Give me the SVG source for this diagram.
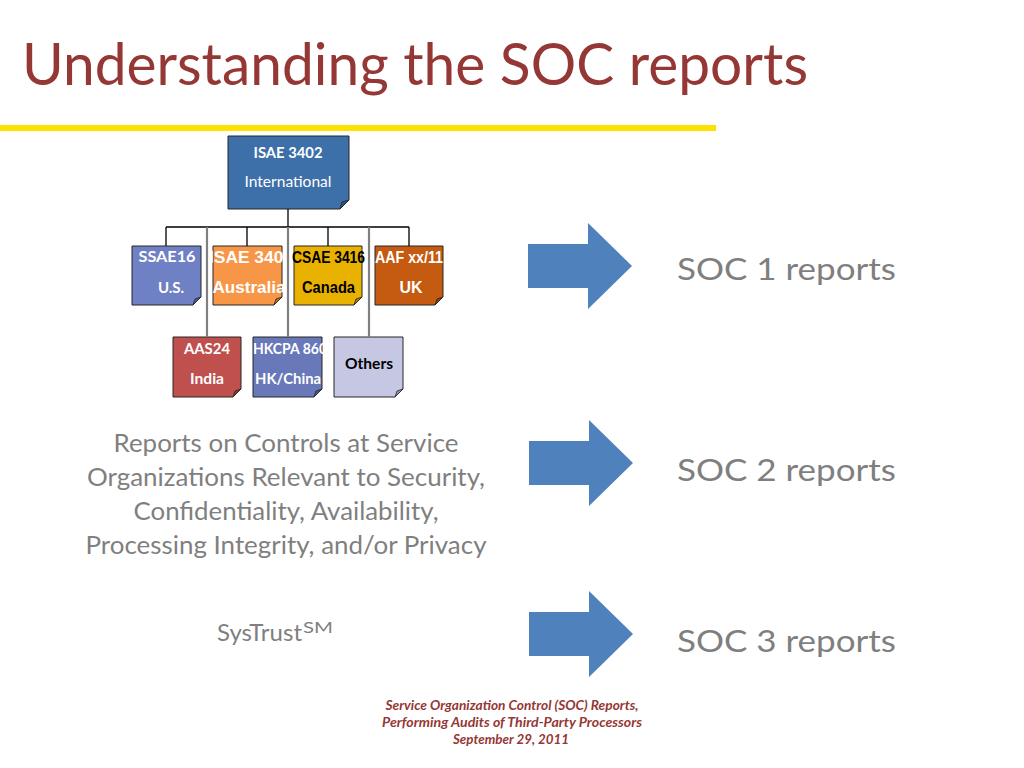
<svg xmlns="http://www.w3.org/2000/svg" width="1024" height="768" viewBox="0 0 1024 768">
<defs>
<style>
.box{stroke:#262626;stroke-width:1}
.fold{stroke:#262626;stroke-width:0.8}
.conn{stroke:#000;stroke-width:1.3;fill:none}
.gconn{stroke:#808080;stroke-width:2.2;fill:none}
.cal{font-family:Lato,"Open Sans","Liberation Sans",sans-serif}
.bw{font-family:Lato,"Open Sans","Liberation Sans",sans-serif;font-weight:bold;font-size:15px;fill:#fff;text-anchor:middle}
.ar{font-family:"Liberation Sans",Arial,sans-serif;font-weight:bold;font-size:16px;text-anchor:middle}
.gray{fill:#7F7F7F}
.foot{font-family:Lato,"Open Sans","Liberation Sans",sans-serif;font-weight:bold;font-style:italic;font-size:13px;fill:#953735;text-anchor:middle}
</style>
<polygon id="arrow" points="-104,-22 -44,-22 -44,-43 0,0 -44,43 -44,22 -104,22" fill="#4F81BD"/>
</defs>
<rect width="1024" height="768" fill="#fff"/>

<text class="cal" x="22" y="85" font-size="59" fill="#953735" textLength="786" lengthAdjust="spacingAndGlyphs">Understanding the SOC reports</text>
<rect x="0" y="125" width="716" height="6" fill="#FFE000"/>

<g id="node-isae3402">
<path class="box" fill="#3D6FA9" d="M228,136 H349 V200 L340,209 H228 Z"/>
<path class="fold" fill="#2D5384" d="M349,200 L340,209 L342,202 Z"/>
<text class="bw" x="288" y="158" font-size="14" textLength="69" lengthAdjust="spacingAndGlyphs">ISAE 3402</text>
<text class="cal" x="288" y="187" font-size="15" fill="#fff" text-anchor="middle" textLength="87" lengthAdjust="spacingAndGlyphs">International</text>
</g>

<g id="node-ssae16">
<path class="box" fill="#7080C4" d="M132,246 H201 V297 L193,305 H132 Z"/>
<path class="fold" fill="#4F5C96" d="M201,297 L193,305 L195,299 Z"/>
<text class="bw" x="167" y="262" textLength="57" lengthAdjust="spacingAndGlyphs">SSAE16</text>
<text class="bw" x="171" y="293">U.S.</text>
</g>

<g id="node-isae3402-au">
<path class="box" fill="#F79646" d="M213,246 H282 V297 L274,305 H213 Z"/>
<path class="fold" fill="#B86C2E" d="M282,297 L274,305 L276,299 Z"/>
<text class="ar" x="251" y="263" fill="#fff" textLength="84" lengthAdjust="spacingAndGlyphs">ISAE 3402</text>
<text class="ar" x="249" y="293" fill="#fff" textLength="73" lengthAdjust="spacingAndGlyphs">Australia</text>
</g>

<g id="node-csae3416">
<path class="box" fill="#E9B100" d="M294,246 H362 V297 L354,305 H294 Z"/>
<path class="fold" fill="#A87F00" d="M362,297 L354,305 L356,299 Z"/>
<text class="ar" x="328.5" y="263" fill="#000" textLength="73" lengthAdjust="spacingAndGlyphs">CSAE 3416</text>
<text class="ar" x="328.5" y="293" fill="#000" textLength="53" lengthAdjust="spacingAndGlyphs">Canada</text>
</g>

<g id="node-aaf">
<path class="box" fill="#C55A11" d="M375,246 H443 V297 L435,305 H375 Z"/>
<path class="fold" fill="#8C3F0B" d="M443,297 L435,305 L437,299 Z"/>
<text class="ar" x="409" y="263" fill="#fff" font-size="15" textLength="68" lengthAdjust="spacingAndGlyphs">AAF xx/11</text>
<text class="ar" x="411" y="293" fill="#fff">UK</text>
</g>

<g id="node-aas24">
<path class="box" fill="#C0504D" d="M173,337 H241 V389 L233,397 H173 Z"/>
<path class="fold" fill="#8A3836" d="M241,389 L233,397 L235,391 Z"/>
<text class="bw" x="207" y="354" textLength="46" lengthAdjust="spacingAndGlyphs">AAS24</text>
<text class="bw" x="207" y="384" textLength="34" lengthAdjust="spacingAndGlyphs">India</text>
</g>

<g id="node-hkcpa">
<path class="box" fill="#6878B8" d="M253,337 H322 V389 L314,397 H253 Z"/>
<path class="fold" fill="#4A5685" d="M322,389 L314,397 L316,391 Z"/>
<text class="bw" x="290" y="354" textLength="74" lengthAdjust="spacingAndGlyphs">HKCPA 860</text>
<text class="bw" x="288" y="384" textLength="66" lengthAdjust="spacingAndGlyphs">HK/China</text>
</g>

<g id="node-others">
<path class="box" fill="#C6C8E3" d="M334,337 H403 V389 L395,397 H334 Z"/>
<path class="fold" fill="#9496B0" d="M403,389 L395,397 L397,391 Z"/>
<text class="bw" x="369" y="369" style="fill:#000" textLength="48" lengthAdjust="spacingAndGlyphs">Others</text>
</g>

<g id="connectors">
<path class="conn" d="M288,209 V227 M166,227 H409 M166,227 V246 M247,227 V246 M328,227 V246 M409,227 V246"/>
<path class="gconn" d="M207,227 V337 M288,227 V337 M369,227 V337"/>
</g>

<g id="arrows">
<use href="#arrow" x="632" y="266"/>
<use href="#arrow" x="633" y="463"/>
<use href="#arrow" x="633" y="634"/>
</g>

<g id="soc-labels" class="cal gray" font-size="30">
<text x="677" y="280" textLength="219" lengthAdjust="spacingAndGlyphs">SOC 1 reports</text>
<text x="677" y="481" textLength="219" lengthAdjust="spacingAndGlyphs">SOC 2 reports</text>
<text x="677" y="652" textLength="219" lengthAdjust="spacingAndGlyphs">SOC 3 reports</text>
</g>

<g id="soc2-desc" class="cal gray" font-size="25" text-anchor="middle">
<text x="286" y="452" textLength="345" lengthAdjust="spacingAndGlyphs">Reports on Controls at Service</text>
<text x="286" y="486" textLength="398" lengthAdjust="spacingAndGlyphs">Organizations Relevant to Security,</text>
<text x="286" y="520" textLength="305" lengthAdjust="spacingAndGlyphs">Confidentiality, Availability,</text>
<text x="286" y="554" textLength="401" lengthAdjust="spacingAndGlyphs">Processing Integrity, and/or Privacy</text>
</g>

<g id="systrust" class="cal gray">
<text x="217" y="641" font-size="23" textLength="85" lengthAdjust="spacingAndGlyphs">SysTrust</text>
<text x="303" y="633" font-size="15" textLength="30" lengthAdjust="spacingAndGlyphs">SM</text>
</g>

<g id="footer">
<text class="foot" x="512" y="710" textLength="253" lengthAdjust="spacingAndGlyphs">Service Organization Control (SOC) Reports,</text>
<text class="foot" x="512" y="727" textLength="260" lengthAdjust="spacingAndGlyphs">Performing Audits of Third-Party Processors</text>
<text class="foot" x="511" y="744" textLength="116" lengthAdjust="spacingAndGlyphs">September 29, 2011</text>
</g>
</svg>
